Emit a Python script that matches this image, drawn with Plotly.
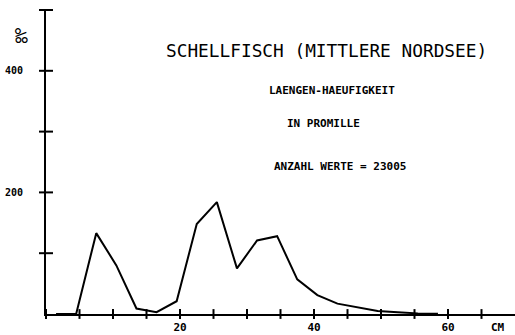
import plotly.graph_objects as go

# Data (length class centre in cm, frequency in per mille)
lengths = [1.5, 4.5, 7.5, 10.5, 13.5, 16.5, 19.5, 22.5, 25.5, 28.5, 31.5,
           34.5, 37.5, 40.5, 43.5, 46.5, 49.5, 52.5, 55.5, 58.5]
promille = [0, 0, 133, 80, 9, 3, 21, 148, 184, 75, 121,
            128, 57, 31, 17, 11, 5, 3, 1, 0.5]

x_ticks = [0, 5, 10, 15, 20, 25, 30, 35, 40, 45, 50, 55, 60, 65]
x_labels = ["20", "40", "60"]
x_label_vals = [20, 40, 60]
y_ticks = [100, 200, 300, 400]
y_labels = ["200", "400"]
y_label_vals = [200, 400]

title = "SCHELLFISCH (MITTLERE NORDSEE)"
notes = ["LAENGEN-HAEUFIGKEIT", "IN PROMILLE", "ANZAHL WERTE = 23005"]

MONO = "DejaVu Sans Mono"

fig = go.Figure()

# curve
fig.add_trace(go.Scatter(x=lengths, y=promille, mode="lines",
                         line=dict(color="black", width=2),
                         hoverinfo="skip", showlegend=False))
# crossing tick marks on x-axis
fig.add_trace(go.Scatter(x=x_ticks, y=[0] * len(x_ticks), mode="markers",
                         marker=dict(symbol="line-ns", size=7,
                                     line=dict(color="black", width=2)),
                         cliponaxis=False, hoverinfo="skip", showlegend=False))
# crossing tick marks on y-axis
fig.add_trace(go.Scatter(x=[0] * len(y_ticks), y=y_ticks, mode="markers",
                         marker=dict(symbol="line-ew", size=10,
                                     line=dict(color="black", width=2)),
                         cliponaxis=False, hoverinfo="skip", showlegend=False))
# top cap of y-axis
fig.add_trace(go.Scatter(x=[0], y=[500], mode="markers",
                         marker=dict(symbol="line-ew", size=10,
                                     line=dict(color="black", width=2)),
                         cliponaxis=False, hoverinfo="skip", showlegend=False))

fig.update_layout(
    width=515, height=335,
    margin=dict(l=46, r=0, t=10, b=21, autoexpand=False),
    paper_bgcolor="white", plot_bgcolor="white",
    font=dict(family=MONO, color="black"),
    xaxis=dict(range=[0, 70], showgrid=False, zeroline=False,
               showline=True, linecolor="black", linewidth=2,
               tickmode="array", tickvals=x_label_vals, ticktext=x_labels,
               ticks="", tickfont=dict(size=11, family=MONO, weight="bold"),
               ticklabelstandoff=2, automargin=False),
    yaxis=dict(range=[0, 500], showgrid=False, zeroline=False,
               showline=True, linecolor="black", linewidth=2,
               tickmode="array", tickvals=y_label_vals, ticktext=y_labels,
               ticks="", tickfont=dict(size=10, family=MONO, weight="bold"),
               ticklabelstandoff=19, automargin=False),
)

fig.add_annotation(text=title, xref="paper", yref="paper", x=0.599, y=0.866,
                   showarrow=False, font=dict(size=17.8, family=MONO),
                   xanchor="center", yanchor="middle")
fig.add_annotation(text=notes[0], xref="paper", yref="paper", x=0.61, y=0.735,
                   showarrow=False, font=dict(size=11, family=MONO, weight="bold"),
                   xanchor="center", yanchor="middle")
fig.add_annotation(text=notes[1], xref="paper", yref="paper", x=0.592, y=0.628,
                   showarrow=False, font=dict(size=11, family=MONO, weight="bold"),
                   xanchor="center", yanchor="middle")
fig.add_annotation(text=notes[2], xref="paper", yref="paper", x=0.627, y=0.484,
                   showarrow=False, font=dict(size=11, family=MONO, weight="bold"),
                   xanchor="center", yanchor="middle")
fig.add_annotation(text="CM", xref="x", yref="paper", x=67.5, y=-0.043,
                   showarrow=False, font=dict(size=11, family=MONO, weight="bold"),
                   xanchor="center", yanchor="middle")
fig.add_annotation(text="‰", xref="paper", yref="paper", x=-0.052, y=0.915,
                   showarrow=False, font=dict(size=21, family=MONO),
                   xanchor="center", yanchor="middle")

fig.write_html("out.html", config={"displayModeBar": False},
               post_script="document.body.style.margin='0';document.body.style.overflow='hidden';")
